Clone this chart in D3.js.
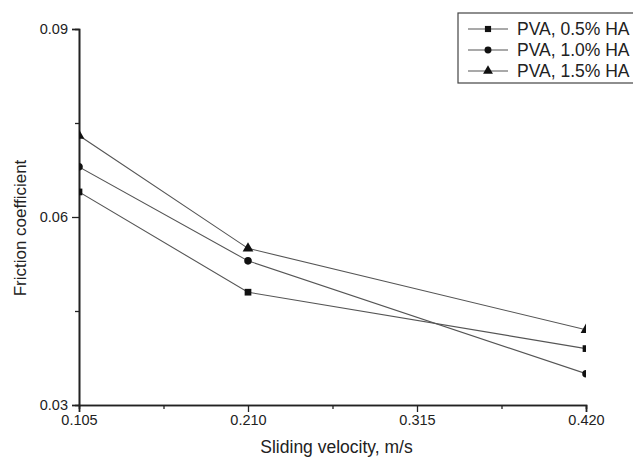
<!DOCTYPE html>
<html>
<head>
<meta charset="utf-8">
<script src="https://cdn.jsdelivr.net/npm/d3@7"></script>
<style>
  body { margin: 0; background: #fff; }
  text { font-family: "Liberation Sans", Arial, sans-serif; fill: #222; }
</style>
</head>
<body>
<div id="chart"></div>
<script>
/* data */
var velocities = [0.105, 0.210, 0.420];
var xTicks = [0.105, 0.210, 0.315, 0.420];
var yTicks = [0.03, 0.06, 0.09];
var seriesNames = ["PVA, 0.5% HA", "PVA, 1.0% HA", "PVA, 1.5% HA"];
var ha05 = [0.064, 0.048, 0.039];
var ha10 = [0.068, 0.053, 0.035];
var ha15 = [0.073, 0.055, 0.042];
var symbols = [d3.symbolSquare, d3.symbolCircle, d3.symbolTriangle];

var series = [ha05, ha10, ha15].map(function(vals, i) {
    return { name: seriesNames[i], symbol: symbols[i],
             values: vals.map(function(v, j) { return { x: velocities[j], y: v }; }) };
});

var W = 633, H = 459;
var margin = { left: 79, right: 47, top: 29, bottom: 54 };
var width = W - margin.left - margin.right,
    height = H - margin.top - margin.bottom;

var x = d3.scaleLinear().domain([0.105, 0.420]).range([0, width]);
var y = d3.scaleLinear().domain([0.03, 0.09]).range([height, 0]);

var svg = d3.select("#chart").append("svg")
    .attr("width", W).attr("height", H);

svg.append("defs").append("clipPath").attr("id", "plotclip")
    .append("rect").attr("width", width).attr("height", height + 1);

var chart = svg.append("g")
    .attr("transform", "translate(" + margin.left + "," + margin.top + ")");

/* minor ticks */
var xMinor = d3.axisBottom(x).tickValues([0.1575, 0.2625, 0.3675]).tickSize(4).tickFormat("");
var yMinor = d3.axisLeft(y).tickValues([0.045, 0.075]).tickSize(4).tickFormat("");

/* x axis */
chart.append("g").attr("transform", "translate(0," + height + ")")
    .call(d3.axisBottom(x).tickValues(xTicks).tickSize(7).tickPadding(3).tickFormat(d3.format(".3f")));
chart.append("g").attr("transform", "translate(0," + height + ")").call(xMinor);

/* y axis */
chart.append("g")
    .call(d3.axisLeft(y).tickValues(yTicks).tickSize(7).tickPadding(4)
        .tickFormat(function(d) { return d3.format(".2f")(d); }));
chart.append("g").call(yMinor);

chart.selectAll(".domain").attr("stroke", "#222").attr("stroke-width", 1.6);
chart.selectAll(".tick line").attr("stroke", "#222").attr("stroke-width", 1.3);
chart.selectAll(".tick text").attr("font-size", 14.5).attr("fill", "#333")
    .attr("font-family", "Liberation Sans, Arial, sans-serif");

/* lines and markers */
var line = d3.line()
    .x(function(d) { return x(d.x); })
    .y(function(d) { return y(d.y); });

var plot = chart.append("g").attr("clip-path", "url(#plotclip)");

series.forEach(function(s) {
    plot.append("path")
        .datum(s.values)
        .attr("fill", "none")
        .attr("stroke", "#555")
        .attr("stroke-width", 1.1)
        .attr("d", line);
    plot.selectAll(null).data(s.values).enter().append("path")
        .attr("transform", function(d) { return "translate(" + x(d.x) + "," + y(d.y) + ")"; })
        .attr("d", d3.symbol().type(s.symbol).size(s.symbol === d3.symbolTriangle ? 50 : 45))
        .attr("fill", "#111");
});

/* axis labels */
chart.append("text")
    .attr("transform", "translate(" + (width / 2 + 4) + "," + (height + 48) + ")")
    .attr("text-anchor", "middle").attr("font-size", 17.5)
    .text("Sliding velocity, m/s");

chart.append("text")
    .attr("transform", "translate(" + (-53) + "," + (height / 2 + 11) + ")rotate(-90)")
    .attr("text-anchor", "middle").attr("font-size", 17)
    .text("Friction coefficient");

/* legend */
var legend = svg.append("g").attr("transform", "translate(458,13)");
legend.append("rect")
    .attr("width", 185).attr("height", 70)
    .attr("fill", "#fff").attr("stroke", "#444").attr("stroke-width", 1.2);

series.forEach(function(s, i) {
    var row = legend.append("g").attr("transform", "translate(0," + (16 + i * 21) + ")");
    row.append("line").attr("x1", 10).attr("x2", 50).attr("y1", 0).attr("y2", 0)
        .attr("stroke", "#555").attr("stroke-width", 1.1);
    row.append("path").attr("transform", "translate(30,0)")
        .attr("d", d3.symbol().type(s.symbol).size(s.symbol === d3.symbolTriangle ? 42 : 38))
        .attr("fill", "#111");
    row.append("text").attr("x", 59).attr("y", 6)
        .attr("font-size", 17.5).text(s.name);
});
</script>
</body>
</html>
